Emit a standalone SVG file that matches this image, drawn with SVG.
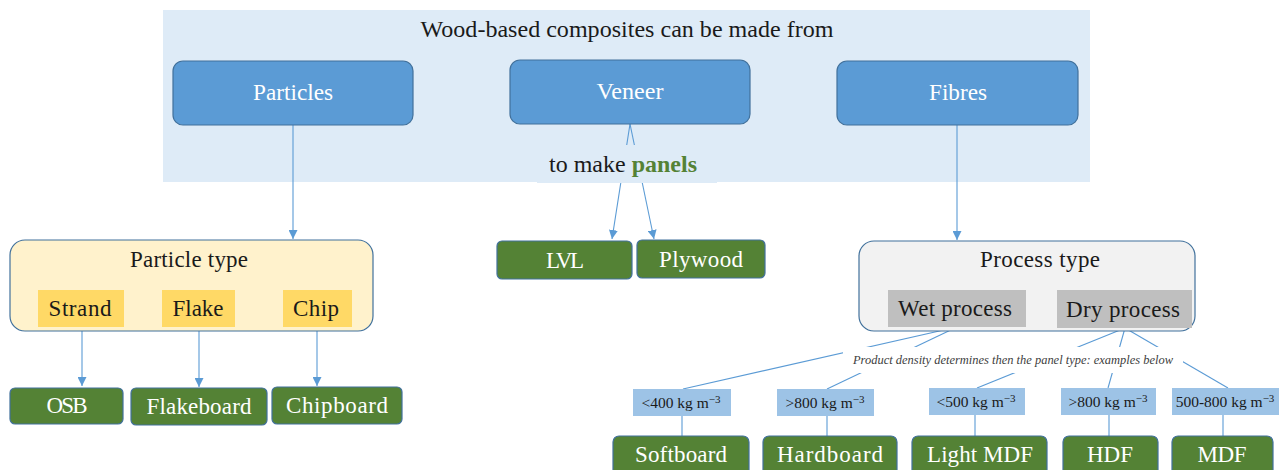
<svg xmlns="http://www.w3.org/2000/svg" width="1288" height="470" viewBox="0 0 1288 470">
<defs>
<marker id="arr" viewBox="0 0 10 10" refX="10" refY="5" markerWidth="9" markerHeight="9" markerUnits="userSpaceOnUse" orient="auto">
<path d="M0,0 L10,5 L0,10 z" fill="#5b9bd5"/>
</marker>
<style>
text{font-family:"Liberation Serif","DejaVu Serif",serif;}
.t{font-size:23px;fill:#1a1a1a;text-anchor:middle;}
.w{font-size:23px;fill:#ffffff;text-anchor:middle;}
.blue{fill:#5b9bd5;stroke:#41719c;stroke-width:1.2;}
.green{fill:#548235;stroke:#41719c;stroke-width:1.2;}
.yel{fill:#ffd966;}
.gray{fill:#bfbfbf;}
.dens{fill:#9dc3e6;}
.dt{font-size:15.5px;fill:#1a1a1a;text-anchor:middle;}
.sup{font-size:11px;}
.c{stroke:#5b9bd5;stroke-width:1.1;fill:none;}
</style>
</defs>
<rect id="panel" x="163" y="10" width="927" height="172" fill="#deebf7"/>
<g id="connectors">
<line class="c" x1="293" y1="125" x2="293" y2="239" marker-end="url(#arr)"/>
<line class="c" x1="957" y1="125" x2="957" y2="240" marker-end="url(#arr)"/>
<line class="c" x1="630" y1="124" x2="612" y2="239" marker-end="url(#arr)"/>
<line class="c" x1="630" y1="124" x2="654" y2="239" marker-end="url(#arr)"/>
<line class="c" x1="82" y1="327" x2="82" y2="386" marker-end="url(#arr)"/>
<line class="c" x1="199" y1="327" x2="199" y2="387" marker-end="url(#arr)"/>
<line class="c" x1="317" y1="327" x2="317" y2="386" marker-end="url(#arr)"/>
<line class="c" x1="957" y1="327" x2="683" y2="389"/>
<line class="c" x1="957" y1="327" x2="827" y2="389"/>
<line class="c" x1="1125" y1="328" x2="977" y2="388"/>
<line class="c" x1="1125" y1="328" x2="1108" y2="388"/>
<line class="c" x1="1125" y1="328" x2="1228" y2="388"/>
<line class="c" x1="682" y1="416" x2="682" y2="436"/>
<line class="c" x1="827" y1="416" x2="827" y2="436"/>
<line class="c" x1="975" y1="415" x2="975" y2="436"/>
<line class="c" x1="1109" y1="415" x2="1109" y2="436"/>
<line class="c" x1="1223" y1="415" x2="1223" y2="436"/>
</g>
<g id="title">
<text x="627" y="37" font-size="22.5" fill="#1a1a1a" text-anchor="middle" textLength="413" lengthAdjust="spacingAndGlyphs">Wood-based composites can be made from</text>
</g>
<g id="panels-label">
<rect x="537" y="145" width="180" height="38" fill="#deebf7"/>
<text x="549" y="172" font-size="23" fill="#1a1a1a" textLength="148" lengthAdjust="spacingAndGlyphs">to make <tspan fill="#548235" font-weight="bold">panels</tspan></text>
</g>
<g id="particles"><rect class="blue" x="173" y="61" width="240" height="64" rx="10"/><text class="w" x="293" y="100" textLength="80" lengthAdjust="spacingAndGlyphs">Particles</text></g>
<g id="veneer"><rect class="blue" x="510" y="60" width="240" height="64" rx="10"/><text class="w" x="630" y="99" textLength="67" lengthAdjust="spacingAndGlyphs">Veneer</text></g>
<g id="fibres"><rect class="blue" x="837" y="61" width="241" height="64" rx="10"/><text class="w" x="958" y="100" textLength="58" lengthAdjust="spacingAndGlyphs">Fibres</text></g>
<g id="lvl"><rect class="green" x="497" y="241" width="135" height="38" rx="5"/><text class="w" x="565" y="268" textLength="38">LVL</text></g>
<g id="plywood"><rect class="green" x="637" y="240" width="128" height="38" rx="5"/><text class="w" x="701" y="267" textLength="84">Plywood</text></g>
<g id="particle-type">
<rect x="10" y="240" width="363" height="91" rx="15" fill="#fff2cc" stroke="#41719c" stroke-width="1.2"/>
<text class="t" x="189" y="267" textLength="118">Particle type</text>
</g>
<g id="strand"><rect class="yel" x="38" y="290" width="86" height="37"/><text class="t" x="80" y="316" textLength="63">Strand</text></g>
<g id="flake"><rect class="yel" x="162" y="290" width="73" height="37"/><text class="t" x="198" y="316" textLength="51">Flake</text></g>
<g id="chip"><rect class="yel" x="283" y="290" width="69" height="37"/><text class="t" x="316" y="316" textLength="46">Chip</text></g>
<g id="osb"><rect class="green" x="10" y="388" width="113" height="36" rx="5"/><text class="w" x="67" y="413" textLength="41">OSB</text></g>
<g id="flakeboard"><rect class="green" x="131" y="388" width="136" height="37" rx="5"/><text class="w" x="199" y="414" textLength="105">Flakeboard</text></g>
<g id="chipboard"><rect class="green" x="272" y="387" width="130" height="37" rx="5"/><text class="w" x="337" y="413" textLength="102">Chipboard</text></g>
<g id="process-type">
<rect x="859" y="241" width="336" height="90" rx="15" fill="#f2f2f2" stroke="#41719c" stroke-width="1.2"/>
<text class="t" x="1040" y="267" textLength="120">Process type</text>
</g>
<g id="wet"><rect class="gray" x="888" y="290" width="138" height="37"/><text class="t" x="955" y="316" textLength="114">Wet process</text></g>
<g id="dry"><rect class="gray" x="1057" y="290" width="135" height="38"/><text class="t" x="1123" y="317" textLength="114">Dry process</text></g>
<g id="density-label">
<rect x="843" y="347" width="340" height="26" fill="#ffffff"/>
<text x="1013" y="364" font-size="13" font-style="italic" fill="#404040" text-anchor="middle" textLength="320" lengthAdjust="spacingAndGlyphs">Product density determines then the panel type: examples below</text>
</g>
<g id="d400"><rect class="dens" x="633" y="389" width="98" height="27"/><text class="dt" x="681" y="408">&lt;400 kg m<tspan class="sup" dy="-5">−3</tspan></text></g>
<g id="d800a"><rect class="dens" x="777" y="389" width="97" height="27"/><text class="dt" x="825" y="408">&gt;800 kg m<tspan class="sup" dy="-5">−3</tspan></text></g>
<g id="d500"><rect class="dens" x="929" y="388" width="96" height="27"/><text class="dt" x="976" y="407">&lt;500 kg m<tspan class="sup" dy="-5">−3</tspan></text></g>
<g id="d800b"><rect class="dens" x="1061" y="388" width="95" height="27"/><text class="dt" x="1108" y="407">&gt;800 kg m<tspan class="sup" dy="-5">−3</tspan></text></g>
<g id="d500-800"><rect class="dens" x="1172" y="388" width="107" height="27"/><text class="dt" x="1225" y="407">500-800 kg m<tspan class="sup" dy="-5">−3</tspan></text></g>
<g id="softboard"><rect class="green" x="613" y="436" width="136" height="40" rx="6"/><text class="w" x="681" y="462" textLength="92">Softboard</text></g>
<g id="hardboard"><rect class="green" x="763" y="436" width="134" height="40" rx="6"/><text class="w" x="830" y="462" textLength="106">Hardboard</text></g>
<g id="lightmdf"><rect class="green" x="912" y="436" width="135" height="40" rx="6"/><text class="w" x="980" y="462" textLength="106">Light MDF</text></g>
<g id="hdf"><rect class="green" x="1063" y="436" width="95" height="40" rx="6"/><text class="w" x="1110" y="462" textLength="46">HDF</text></g>
<g id="mdf"><rect class="green" x="1172" y="436" width="101" height="40" rx="6"/><text class="w" x="1222" y="462" textLength="49">MDF</text></g>
</svg>
